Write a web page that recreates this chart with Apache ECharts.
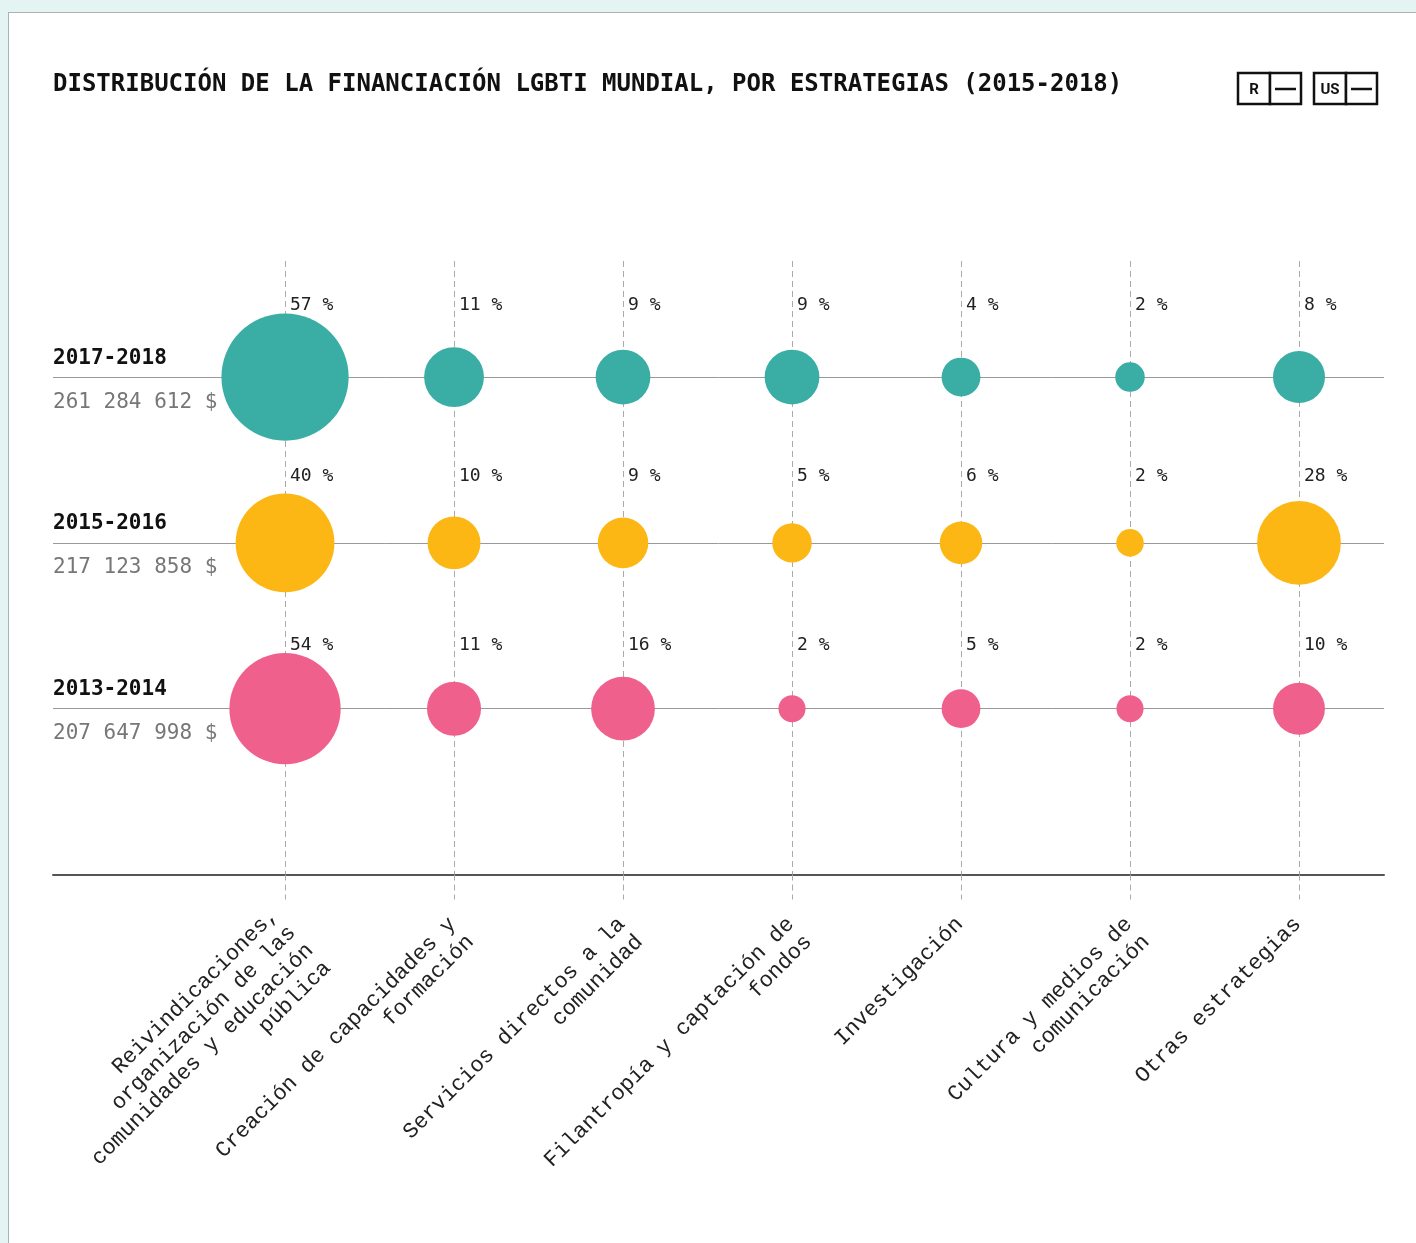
<!DOCTYPE html>
<html>
<head>
<meta charset="utf-8">
<style>
  html, body { margin: 0; padding: 0; background: #e4f4f3; }
  #panel { position: absolute; left: 8px; top: 12px; width: 1420px; height: 1250px; background: #fff; border: 1px solid #a9b3b3; }
  #chart { position: absolute; left: 0; top: 0; width: 1416px; height: 1243px; }
</style>
<script src="https://cdn.jsdelivr.net/npm/echarts@6/dist/echarts.min.js"></script>
</head>
<body>
<div id="panel"></div>
<div id="chart"></div>
<script>
const strategies = [
  'Reivindicaciones,\norganización de las\ncomunidades y educación\npública',
  'Creación de capacidades y\nformación',
  'Servicios directos a la\ncomunidad',
  'Filantropía y captación de\nfondos',
  'Investigación',
  'Cultura y medios de\ncomunicación',
  'Otras estrategias'
]
// bottom row first
const periods = ['2013-2014', '2015-2016', '2017-2018']
const totals = [207647998, 217123858, 261284612]
const pct2013 = [54, 11, 16, 2, 5, 2, 10]
const pct2015 = [40, 10, 9, 5, 6, 2, 28]
const pct2017 = [57, 11, 9, 9, 4, 2, 8]

const colors = ['#f0608c', '#fcb715', '#3aada5']
const labelShift = [-63, -67, -72]

const mono = '"DejaVu Sans Mono", monospace'

function fmtTotal(n) {
  return String(n).replace(/\B(?=(\d{3})+(?!\d))/g, ' ') + ' $'
}

// the long 4-line name sits higher than the short ones
function axisName(s) {
  const lines = s.split('\n').map(l => l + '  ')
  lines.unshift(lines.length < 4 ? '' : '{g| }')
  return lines.join('\n')
}

const chart = echarts.init(document.getElementById('chart'))

const rows = [pct2013, pct2015, pct2017]
const series = rows.map((pcts, r) => ({
  name: periods[r],
  type: 'scatter',
  data: pcts.map((p, i) => [i, r + 1, p]),
  // bubble size grows with the amount (share x period total, in millions)
  symbolSize: v => 7 + 9.85 * Math.sqrt(v[2] / 100 * totals[r] / 1e6),
  itemStyle: { color: colors[r], opacity: 1 },
  label: {
    show: true,
    position: 'inside',
    align: 'left',
    verticalAlign: 'middle',
    offset: [5, labelShift[r]],
    formatter: p => p.value[2] + ' %',
    color: '#222',
    fontFamily: mono,
    fontSize: 18
  },
  emphasis: { disabled: true },
  silent: true,
  z: 3
}))

chart.setOption({
  animation: false,
  title: {
    text: 'DISTRIBUCIÓN DE LA FINANCIACIÓN LGBTI MUNDIAL, POR ESTRATEGIAS (2015-2018)',
    left: 53,
    top: 73,
    padding: 0,
    textStyle: { fontFamily: mono, fontSize: 24, fontWeight: 'bold', color: '#111' }
  },
  grid: { left: 53, right: 32, top: 261, bottom: 368.5, containLabel: false, outerBoundsMode: 'none' },
  xAxis: {
    type: 'value',
    min: -1.373,
    max: 6.503,
    axisLine: { lineStyle: { color: '#555', width: 2 } },
    axisTick: {
      show: true,
      customValues: [0, 1, 2, 3, 4, 5, 6],
      length: 25,
      lineStyle: { color: '#aaa', type: [6, 4], width: 1 }
    },
    splitLine: { show: true, lineStyle: { color: '#aaa', type: [6, 4], width: 1 } },
    axisLabel: {
      customValues: [0, 1, 2, 3, 4, 5, 6],
      formatter: v => axisName(strategies[Math.round(v)]),
      showMinLabel: true,
      showMaxLabel: true,
      rotate: 45,
      margin: -8,
      align: 'right',
      verticalAlign: 'top',
      padding: [0, 13, 0, 0],
      fontFamily: '"Liberation Mono", monospace',
      fontSize: 22,
      lineHeight: 25,
      color: '#222',
      rich: {
        g: { fontSize: 2, lineHeight: 12 }
      }
    }
  },
  yAxis: {
    type: 'value',
    min: 0,
    max: 3.7,
    axisLine: { show: false },
    axisTick: { show: false, customValues: [1, 2, 3] },
    splitLine: { show: true, lineStyle: { color: '#999', width: 1 } },
    axisLabel: {
      customValues: [1, 2, 3],
      inside: true,
      margin: 0,
      formatter: v => {
        const i = Math.round(v) - 1
        return '{y|' + periods[i] + '}\n{t|' + fmtTotal(totals[i]) + '}'
      },
      rich: {
        y: { fontFamily: mono, fontSize: 21, fontWeight: 'bold', color: '#111', lineHeight: 50 },
        t: { fontFamily: mono, fontSize: 21, color: '#777', lineHeight: 38 }
      }
    }
  },
  graphic: [
    { type: 'rect', shape: { x: 1238, y: 73, width: 32, height: 31 }, style: { fill: '#fff', stroke: '#111', lineWidth: 2.5 } },
    { type: 'rect', shape: { x: 1270, y: 73, width: 31, height: 31 }, style: { fill: '#fff', stroke: '#111', lineWidth: 2.5 } },
    { type: 'text', x: 1254, y: 90, style: { text: 'R', fontFamily: 'Roboto, sans-serif', fontWeight: 'bold', fontSize: 15, fill: '#111', align: 'center', verticalAlign: 'middle' } },
    { type: 'line', shape: { x1: 1275, y1: 89, x2: 1296, y2: 89 }, style: { stroke: '#111', lineWidth: 2.5 } },
    { type: 'rect', shape: { x: 1314, y: 73, width: 32, height: 31 }, style: { fill: '#fff', stroke: '#111', lineWidth: 2.5 } },
    { type: 'rect', shape: { x: 1346, y: 73, width: 31, height: 31 }, style: { fill: '#fff', stroke: '#111', lineWidth: 2.5 } },
    { type: 'text', x: 1330, y: 90, style: { text: 'US', fontFamily: 'Roboto, sans-serif', fontWeight: 'bold', fontSize: 15, fill: '#111', align: 'center', verticalAlign: 'middle' } },
    { type: 'line', shape: { x1: 1351, y1: 89, x2: 1372, y2: 89 }, style: { stroke: '#111', lineWidth: 2.5 } }
  ],
  series: series
})
</script>
</body>
</html>
